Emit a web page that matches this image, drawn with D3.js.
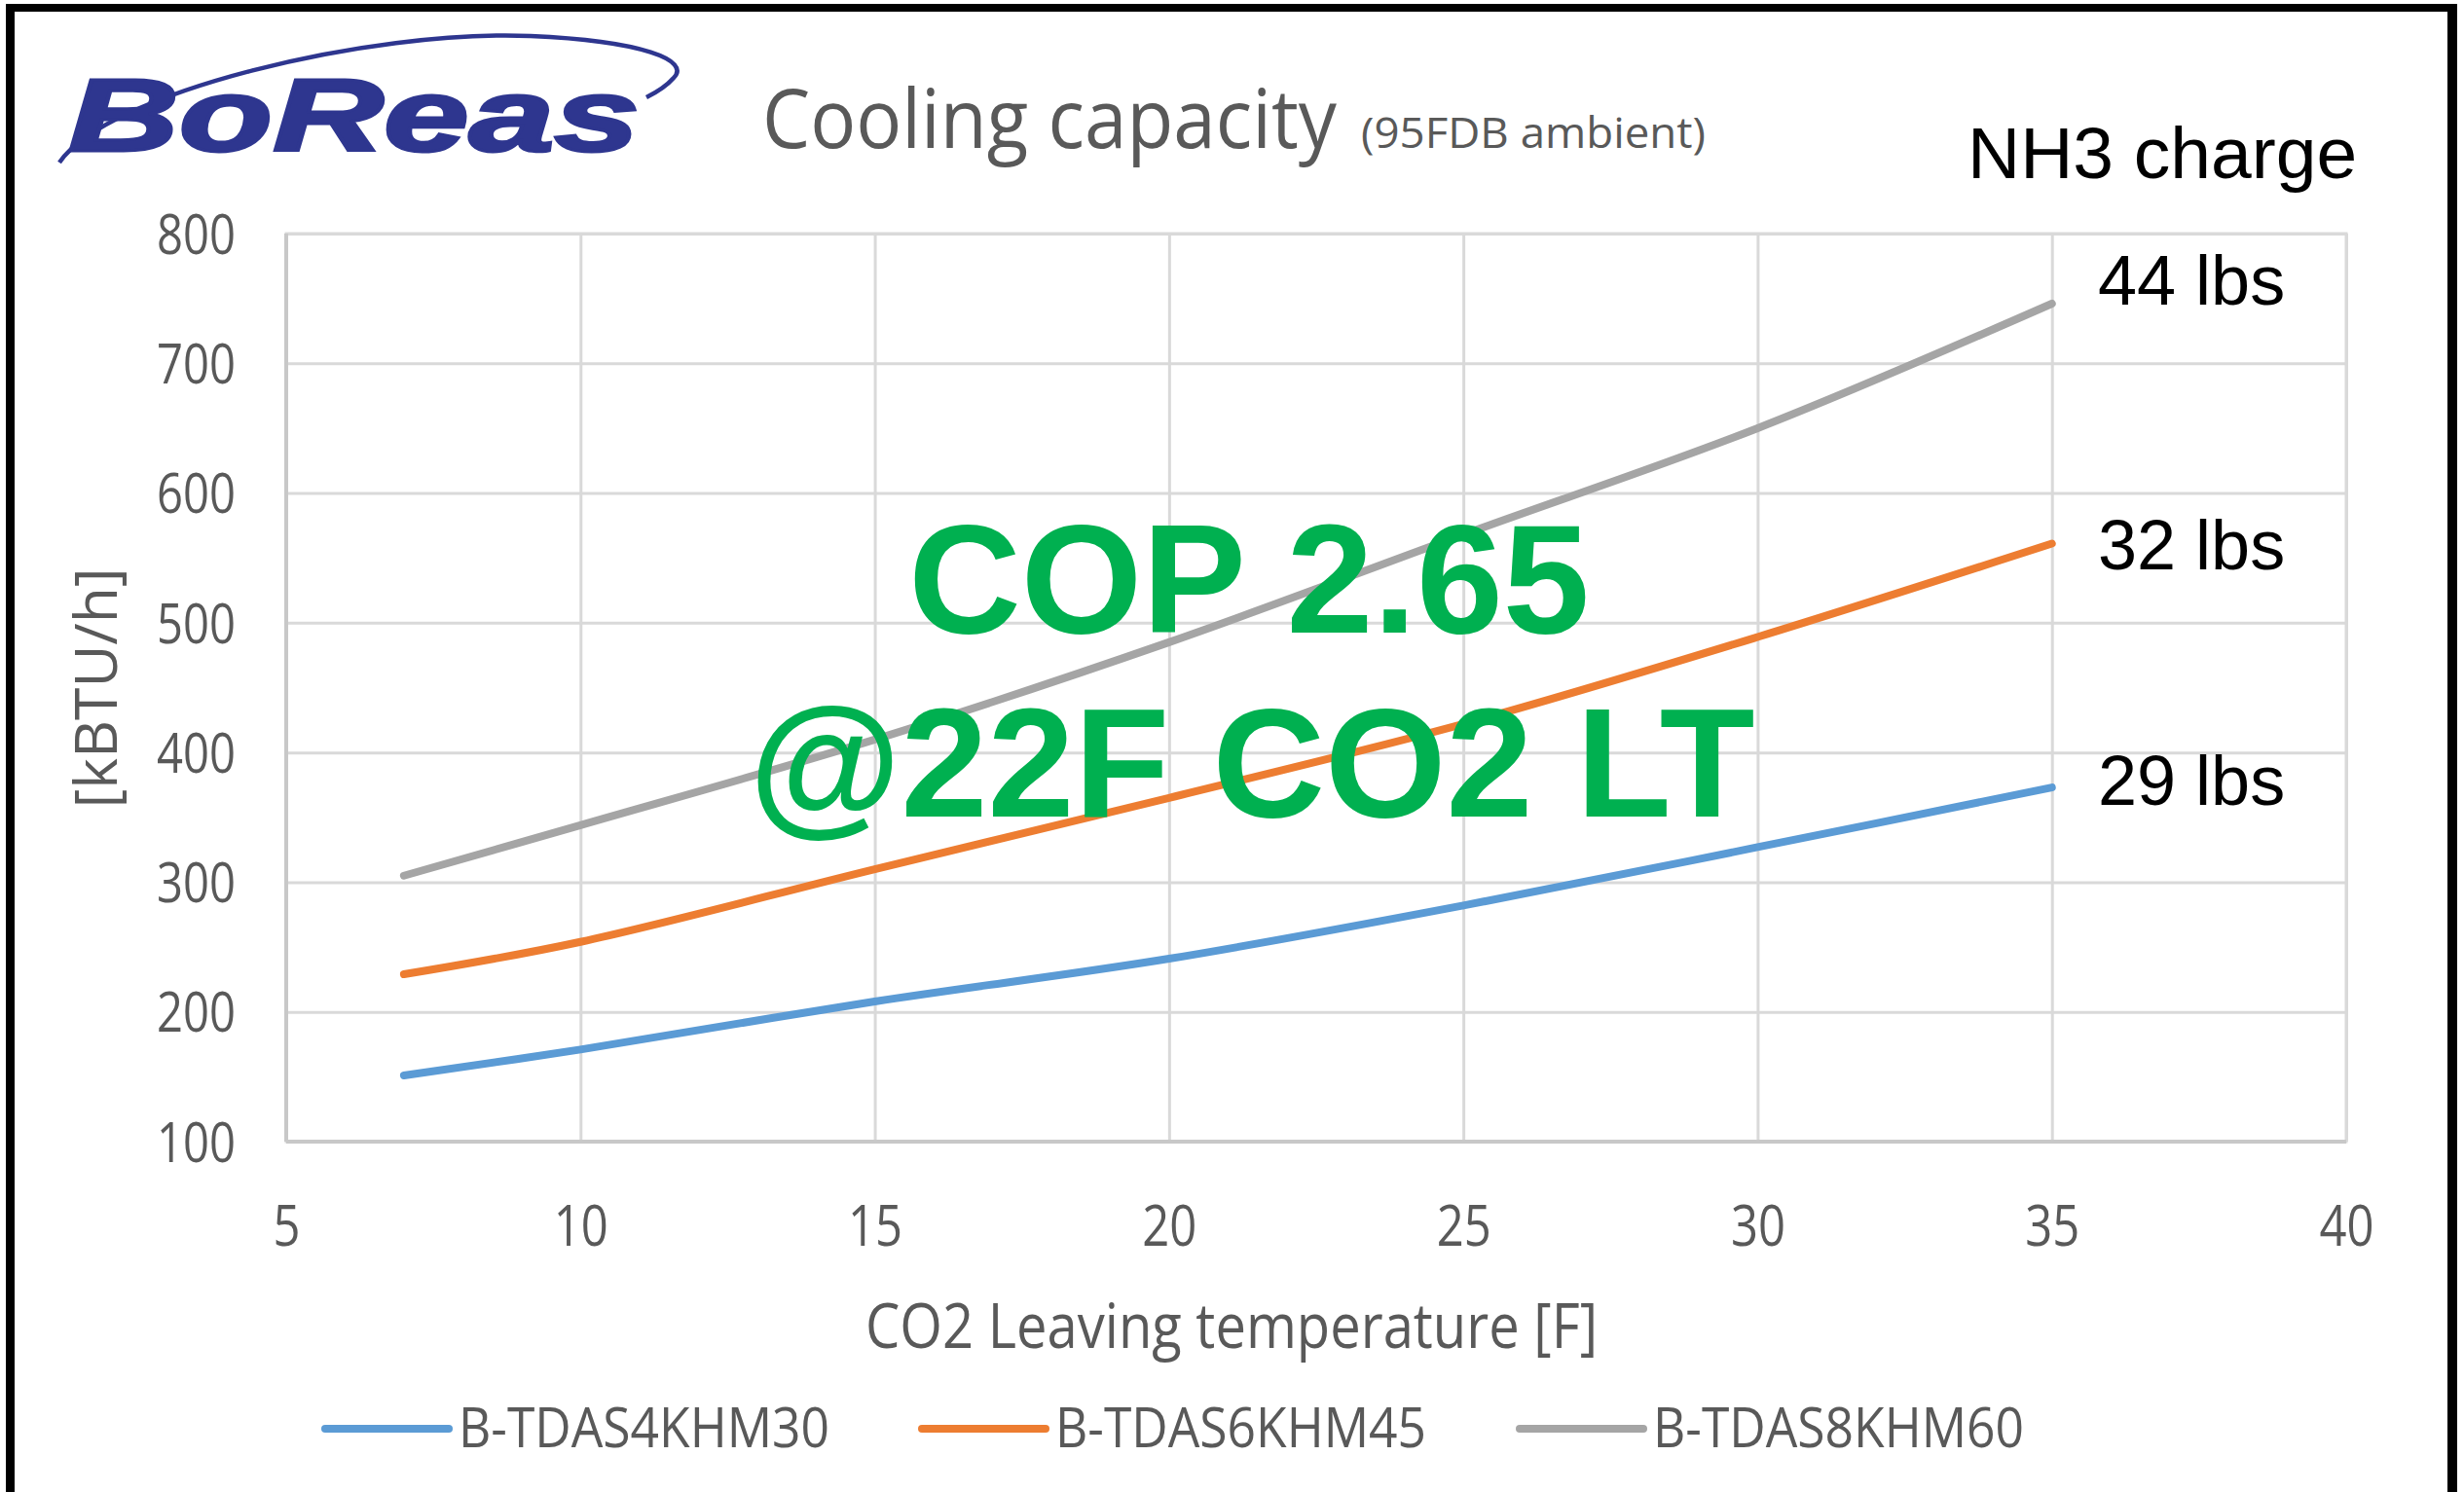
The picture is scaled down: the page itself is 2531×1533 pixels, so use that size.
<!DOCTYPE html>
<html>
<head>
<meta charset="utf-8">
<script src="https://cdn.jsdelivr.net/npm/d3@7"></script>
<style>
  html, body { margin: 0; padding: 0; background: #fff; }
  svg { display: block; }
</style>
</head>
<body>
<div id="chart"></div>
<script>
// values
var temps = [7, 10, 15, 20, 25, 30, 35];
var seriesNames = ["B-TDAS4KHM30", "B-TDAS6KHM45", "B-TDAS8KHM60"];
var capBlue = [151, 171, 208, 241, 282, 327, 373];
var capOrange = [229, 254, 310, 365, 422, 489, 561];
var capGray = [305, 344, 410, 485, 568, 650, 746];
var charges = ["29 lbs", "32 lbs", "44 lbs"];
var xTicks = [5, 10, 15, 20, 25, 30, 35, 40];
var yTicks = [100, 200, 300, 400, 500, 600, 700, 800];

var W = 2531, H = 1533;
var plot = { left: 294, right: 2410, top: 240, bottom: 1173 };
var colors = ["#5B9BD5", "#ED7D31", "#A5A5A5"];
var labelFont = "'Open Sans', 'Noto Sans', sans-serif";
var textGray = "#595959";

var svg = d3.select("#chart")
  .append("svg")
  .attr("width", W)
  .attr("height", H);

svg.append("rect").attr("width", W).attr("height", H).attr("fill", "#fff");

// black frame (left, top, right)
svg.append("rect").attr("x", 6).attr("y", 4).attr("width", 9).attr("height", H).attr("fill", "#000");
svg.append("rect").attr("x", 6).attr("y", 4).attr("width", 2518).attr("height", 8).attr("fill", "#000");
svg.append("rect").attr("x", 2514).attr("y", 4).attr("width", 10).attr("height", H).attr("fill", "#000");

var x = d3.scaleLinear().domain([5, 40]).range([plot.left, plot.right]);
var y = d3.scaleLinear().domain([100, 800]).range([plot.bottom, plot.top]);

// gridlines
svg.append("g")
  .attr("transform", "translate(0," + plot.bottom + ")")
  .call(d3.axisBottom(x).tickValues(xTicks).tickSize(-(plot.bottom - plot.top)).tickFormat(""))
  .call(function(g) { g.select(".domain").remove(); })
  .selectAll("line").attr("stroke", "#d9d9d9").attr("stroke-width", 3);

svg.append("g")
  .attr("transform", "translate(" + plot.left + ",0)")
  .call(d3.axisLeft(y).tickValues(yTicks).tickSize(-(plot.right - plot.left)).tickFormat(""))
  .call(function(g) { g.select(".domain").remove(); })
  .selectAll("line").attr("stroke", "#d9d9d9").attr("stroke-width", 3);

// plot border
svg.append("rect")
  .attr("x", plot.left).attr("y", plot.top)
  .attr("width", plot.right - plot.left).attr("height", plot.bottom - plot.top)
  .attr("fill", "none").attr("stroke", "#d9d9d9").attr("stroke-width", 3);
svg.append("line")
  .attr("x1", plot.left).attr("x2", plot.left).attr("y1", plot.top).attr("y2", plot.bottom)
  .attr("stroke", "#c8c8c8").attr("stroke-width", 4);
svg.append("line")
  .attr("x1", plot.left).attr("x2", plot.right).attr("y1", plot.bottom).attr("y2", plot.bottom)
  .attr("stroke", "#c8c8c8").attr("stroke-width", 4);

// tick labels
var yAxis = svg.append("g")
  .attr("transform", "translate(" + plot.left + ",0)")
  .call(d3.axisLeft(y).tickValues(yTicks).tickSize(0).tickPadding(52));
yAxis.select(".domain").remove();
yAxis.selectAll("text")
  .attr("font-family", labelFont).attr("font-size", 56).attr("fill", textGray)
  .attr("dy", "0.36em")
  .attr("textLength", function(d) { return String(d).length * 27; })
  .attr("lengthAdjust", "spacingAndGlyphs");

var xAxis = svg.append("g")
  .attr("transform", "translate(0," + plot.bottom + ")")
  .call(d3.axisBottom(x).tickValues(xTicks).tickSize(0).tickPadding(0));
xAxis.select(".domain").remove();
xAxis.selectAll("text")
  .attr("font-family", labelFont).attr("font-size", 58).attr("fill", textGray)
  .attr("y", 107).attr("dy", 0)
  .attr("textLength", function(d) { return String(d).length * 28; })
  .attr("lengthAdjust", "spacingAndGlyphs");

// axis titles
svg.append("text")
  .attr("x", 889).attr("y", 1385)
  .attr("font-family", labelFont).attr("font-size", 64).attr("fill", textGray)
  .attr("textLength", 752).attr("lengthAdjust", "spacingAndGlyphs")
  .text("CO2 Leaving temperature [F]");

svg.append("text")
  .attr("transform", "translate(120,707) rotate(-90)")
  .attr("text-anchor", "middle")
  .attr("font-family", labelFont).attr("font-size", 60).attr("fill", textGray)
  .attr("textLength", 247).attr("lengthAdjust", "spacingAndGlyphs")
  .text("[kBTU/h]");

// series lines
var allSeries = [capBlue, capOrange, capGray];
var line = d3.line()
  .x(function(d, i) { return x(temps[i]); })
  .y(function(d) { return y(d); })
  .curve(d3.curveCatmullRom.alpha(0.5));

svg.append("g").selectAll("path")
  .data(allSeries)
  .enter()
  .append("path")
  .attr("d", line)
  .attr("fill", "none")
  .attr("stroke", function(d, i) { return colors[i]; })
  .attr("stroke-width", 8)
  .attr("stroke-linecap", "round");

// NH3 charge labels
var labelDy = [18, 26, 1];
svg.append("text")
  .attr("x", 2021).attr("y", 183)
  .attr("font-family", "'Liberation Sans', Arial, sans-serif").attr("font-size", 75).attr("fill", "#000")
  .text("NH3 charge");
svg.append("g").selectAll("text")
  .data(charges)
  .enter()
  .append("text")
  .attr("x", 2155)
  .attr("y", function(d, i) { var s = allSeries[i]; return y(s[s.length - 1]) + labelDy[i]; })
  .attr("font-family", "'Liberation Sans', Arial, sans-serif").attr("font-size", 72).attr("fill", "#000")
  .text(function(d) { return d; });

// COP annotation
var cop = svg.append("g")
  .attr("font-family", "'Liberation Sans', Arial, sans-serif")
  .attr("font-weight", "bold").attr("font-size", 160).attr("fill", "#00B050")
  .attr("text-anchor", "middle");
cop.append("text").attr("x", 1283).attr("y", 650).text("COP 2.65");
cop.append("text").attr("x", 1286).attr("y", 839).text("@22F CO2 LT");

// legend
var legendX = [334, 947, 1561];
var legend = svg.append("g").selectAll("g")
  .data(seriesNames)
  .enter()
  .append("g")
  .attr("transform", function(d, i) { return "translate(" + legendX[i] + ",1468)"; });
legend.append("line")
  .attr("x1", 0).attr("x2", 127).attr("y1", 0).attr("y2", 0)
  .attr("stroke", function(d, i) { return colors[i]; })
  .attr("stroke-width", 8).attr("stroke-linecap", "round");
legend.append("text")
  .attr("x", 137).attr("y", 19)
  .attr("font-family", labelFont).attr("font-size", 56).attr("fill", textGray)
  .attr("textLength", 381).attr("lengthAdjust", "spacingAndGlyphs")
  .text(function(d) { return d; });

// title
svg.append("text")
  .attr("x", 783).attr("y", 152)
  .attr("font-family", labelFont).attr("font-size", 84).attr("fill", textGray)
  .attr("textLength", 590).attr("lengthAdjust", "spacingAndGlyphs")
  .text("Cooling capacity");
svg.append("text")
  .attr("x", 1398).attr("y", 152)
  .attr("font-family", labelFont).attr("font-size", 44).attr("fill", textGray)
  .attr("textLength", 354).attr("lengthAdjust", "spacingAndGlyphs")
  .text("(95FDB ambient)");

// logo
var logoBlue = "#2E368F";
svg.append("path")
  .attr("d", "M61,167 C110,95 380,30 545,37 C660,42 710,62 692,80 C685,88 676,94 664,100")
  .attr("fill", "none").attr("stroke", logoBlue).attr("stroke-width", 4.5);
svg.append("text")
  .attr("x", 70).attr("y", 155)
  .attr("font-family", "'Liberation Sans', Arial, sans-serif")
  .attr("font-weight", "bold").attr("font-style", "italic").attr("font-size", 106)
  .attr("fill", logoBlue).attr("stroke", logoBlue).attr("stroke-width", 3)
  .attr("textLength", 587).attr("lengthAdjust", "spacingAndGlyphs")
  .text("BoReas");
</script>
</body>
</html>
